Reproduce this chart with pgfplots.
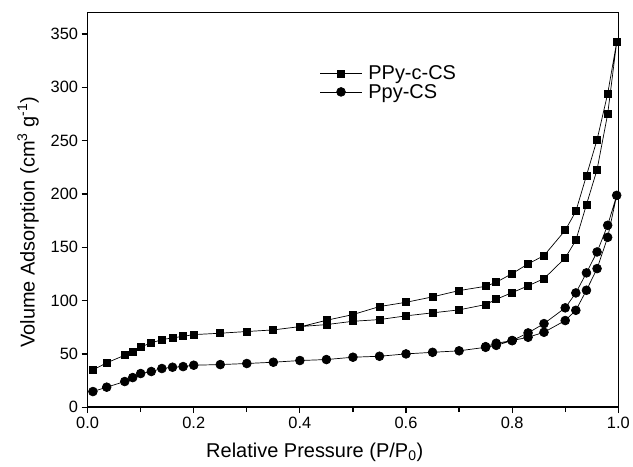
\documentclass[border=0pt]{standalone}
\usepackage{pgfplots}
\pgfplotsset{compat=1.18}
\usepackage{fontspec}
\setmainfont{Liberation Sans}

\begin{document}
\begin{tikzpicture}[font=\fontsize{20}{22}\selectfont]
\begin{axis}[
  name=ax,
  scale only axis,
  width=531.3pt, height=395pt,
  xmin=0, xmax=1, ymin=0, ymax=370,
  xtick={0,0.2,0.4,0.6,0.8,1.0},
  minor xtick={0.1,0.3,0.5,0.7,0.9},
  ytick={0,50,100,150,200,250,300,350},
  xtick pos=bottom, ytick pos=left,
  tick align=outside,
  major tick length=6pt, minor tick length=5pt,
  axis line style={line width=1.5pt},
  every tick/.style={line width=1.2pt, black},
  tick label style={font=\fontsize{16.4}{19}\selectfont},
  /pgf/number format/assume math mode=true,
  x tick label style={/pgf/number format/.cd, fixed, fixed zerofill, precision=1},
  scaled ticks=false,
  xlabel={Relative Pressure (P/P\textsubscript{0})},
  ylabel={Volume Adsorption (cm\textsuperscript{3} g\textsuperscript{-1})},
  xlabel style={at={(axis description cs:0.428,-0.115)}, anchor=center},
  ylabel style={at={(axis description cs:-0.112,0.469)}, anchor=center},
  legend style={at={(axis description cs:0.437,0.866)}, anchor=north west, draw=none, fill=none, inner sep=0pt, row sep=3pt, nodes={inner sep=0pt}, column sep=6pt},
  legend cell align=left,
  legend image code/.code={\draw[mark repeat=2, mark phase=2, #1] plot coordinates {(0pt,0pt) (21pt,0pt) (42pt,0pt)};},
]
\addplot[black, line width=0.7pt, mark=square*, mark size=3.5pt, mark options={solid}] table {
x y
0.010 35.0
0.036 41.6
0.070 48.8
0.085 52.0
0.100 56.6
0.120 60.3
0.140 63.4
0.160 65.0
0.180 66.5
0.200 68.1
0.250 69.4
0.300 71.0
0.350 72.5
0.400 75.6
0.450 77.5
0.500 80.6
0.550 82.2
0.600 85.7
0.650 88.5
0.700 91.3
0.750 96.3
0.770 101.2
0.800 107.5
0.830 113.8
0.860 120.6
0.900 140.0
0.920 156.5
0.940 190.0
0.960 222.8
0.980 275.0
0.997 342.4
0.980 294.0
0.960 250.9
0.940 217.2
0.920 183.7
0.900 165.9
0.860 142.2
0.830 134.4
0.800 125.3
0.770 117.2
0.750 113.4
0.700 109.4
0.650 103.5
0.600 98.4
0.550 94.4
0.500 86.9
0.450 81.5
0.400 75.3
};
\addlegendentry{PPy-c-CS}
\addplot[black, line width=0.7pt, mark=*, mark size=4.4pt, mark options={solid}] table {
x y
0.010 14.7
0.036 18.8
0.070 24.1
0.085 27.8
0.100 31.6
0.120 33.5
0.140 36.3
0.160 37.5
0.180 38.1
0.200 39.4
0.250 40.0
0.300 41.0
0.350 42.2
0.400 43.8
0.450 44.7
0.500 46.9
0.550 47.8
0.600 50.0
0.650 51.5
0.700 52.9
0.750 56.2
0.770 58.0
0.800 62.5
0.830 65.6
0.860 70.3
0.900 81.3
0.920 90.9
0.940 109.7
0.960 130.0
0.980 159.3
0.997 198.7
0.980 170.6
0.960 145.6
0.940 126.0
0.920 107.2
0.900 93.2
0.860 78.4
0.830 69.7
0.800 62.5
0.770 60.0
0.750 56.8
};
\addlegendentry{Ppy-CS}
\end{axis}
\useasboundingbox ([shift={(-87.7pt,-59.3pt)}]ax.south west) rectangle ([shift={(14pt,12.7pt)}]ax.north east);
\end{tikzpicture}
\end{document}
